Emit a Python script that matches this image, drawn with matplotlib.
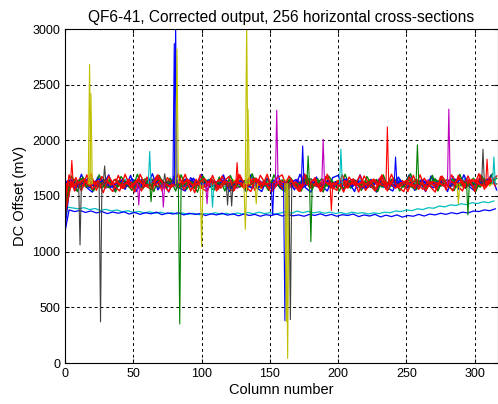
import numpy as np
import matplotlib
matplotlib.use("Agg")
import matplotlib.pyplot as plt

plt.rcParams['font.family'] = ['Liberation Sans', 'DejaVu Sans']

# sampling step (columns) of the hand-read traces
step = 4

# main band traces (mV), one value every `step` columns
band_b1 = [1390, 1622, 1596, 1641, 1608, 1575, 1632, 1655, 1601, 1584,
           1619, 1646, 1590, 1614, 1571, 1636, 1604, 1652, 1579, 1626,
           1599, 1641, 1576, 1611, 1660, 1594, 1621, 1583, 1631, 1606,
           1645, 1569, 1616, 1589, 1650, 1611, 1579, 1626, 1599, 1641,
           1566, 1621, 1594, 1634, 1574, 1609, 1646, 1589, 1619, 1579,
           1629, 1601, 1654, 1584, 1614, 1569, 1624, 1604, 1639, 1579,
           1611, 1594, 1629, 1566, 1621, 1589, 1644, 1599, 1574, 1636,
           1609, 1586, 1651, 1599, 1626, 1589, 1641, 1609, 1656, 1619]
band_g1 = [1350, 1605, 1648, 1580, 1622, 1660, 1598, 1570, 1635, 1612,
           1585, 1640, 1618, 1572, 1628, 1655, 1590, 1615, 1645, 1578,
           1620, 1592, 1650, 1605, 1568, 1632, 1610, 1658, 1588, 1625,
           1602, 1575, 1640, 1615, 1590, 1662, 1597, 1628, 1570, 1612,
           1645, 1585, 1620, 1600, 1655, 1578, 1630, 1608, 1590, 1642,
           1572, 1618, 1596, 1648, 1610, 1580, 1635, 1560, 1615, 1598,
           1650, 1585, 1625, 1605, 1570, 1638, 1592, 1618, 1655, 1588,
           1612, 1640, 1578, 1625, 1600, 1660, 1595, 1630, 1610, 1665]
band_r1 = [1420, 1640, 1585, 1615, 1652, 1590, 1628, 1575, 1645, 1600,
           1622, 1568, 1638, 1605, 1660, 1582, 1618, 1595, 1642, 1610,
           1578, 1632, 1600, 1648, 1585, 1620, 1655, 1592, 1615, 1570,
           1630, 1605, 1645, 1580, 1612, 1658, 1598, 1625, 1572, 1640,
           1608, 1590, 1638, 1565, 1618, 1602, 1650, 1585, 1628, 1595,
           1612, 1645, 1575, 1620, 1598, 1635, 1580, 1652, 1605, 1590,
           1625, 1570, 1615, 1640, 1588, 1608, 1560, 1632, 1598, 1620,
           1585, 1640, 1602, 1628, 1575, 1650, 1612, 1595, 1638, 1625]
band_c1 = [1400, 1598, 1630, 1612, 1575, 1648, 1605, 1622, 1588, 1640,
           1570, 1615, 1652, 1595, 1630, 1608, 1578, 1645, 1615, 1590,
           1660, 1602, 1585, 1625, 1640, 1578, 1612, 1650, 1595, 1630,
           1585, 1620, 1605, 1655, 1590, 1628, 1612, 1575, 1648, 1600,
           1622, 1560, 1615, 1598, 1640, 1610, 1585, 1632, 1568, 1615,
           1595, 1640, 1620, 1572, 1610, 1650, 1590, 1625, 1600, 1575,
           1618, 1598, 1652, 1580, 1612, 1635, 1590, 1608, 1630, 1570,
           1640, 1605, 1625, 1590, 1660, 1615, 1580, 1645, 1620, 1650]
band_m1 = [1360, 1635, 1608, 1580, 1650, 1615, 1592, 1638, 1570, 1625,
           1605, 1588, 1642, 1618, 1575, 1630, 1600, 1660, 1585, 1612,
           1640, 1570, 1625, 1598, 1645, 1615, 1582, 1635, 1605, 1655,
           1595, 1638, 1570, 1610, 1628, 1590, 1645, 1602, 1618, 1580,
           1635, 1608, 1572, 1650, 1592, 1620, 1598, 1575, 1640, 1605,
           1625, 1585, 1612, 1648, 1570, 1630, 1610, 1592, 1655, 1588,
           1598, 1640, 1615, 1582, 1625, 1565, 1610, 1645, 1590, 1628,
           1605, 1575, 1632, 1612, 1650, 1590, 1622, 1605, 1642, 1635]
band_y1 = [1440, 1610, 1645, 1592, 1618, 1575, 1640, 1600, 1655, 1585,
           1630, 1610, 1578, 1645, 1595, 1622, 1660, 1602, 1575, 1638,
           1612, 1585, 1640, 1608, 1625, 1570, 1650, 1598, 1618, 1635,
           1575, 1648, 1600, 1622, 1590, 1635, 1568, 1615, 1642, 1595,
           1620, 1650, 1580, 1612, 1585, 1645, 1602, 1628, 1595, 1572,
           1640, 1605, 1580, 1632, 1615, 1595, 1648, 1572, 1620, 1610,
           1585, 1625, 1600, 1655, 1578, 1615, 1632, 1592, 1608, 1650,
           1620, 1595, 1640, 1580, 1615, 1635, 1605, 1655, 1590, 1645]
band_k1 = [1300, 1615, 1588, 1625, 1640, 1602, 1578, 1650, 1612, 1595,
           1645, 1580, 1620, 1598, 1635, 1605, 1650, 1575, 1618, 1628,
           1595, 1650, 1612, 1580, 1632, 1605, 1590, 1645, 1570, 1620,
           1610, 1595, 1625, 1640, 1575, 1618, 1600, 1652, 1585, 1625,
           1598, 1640, 1612, 1580, 1625, 1655, 1590, 1615, 1632, 1570,
           1608, 1628, 1590, 1645, 1600, 1618, 1575, 1640, 1585, 1622,
           1645, 1598, 1608, 1572, 1635, 1612, 1595, 1628, 1580, 1615,
           1650, 1590, 1612, 1632, 1598, 1618, 1640, 1585, 1630, 1608]
band_b2 = [1250, 1630, 1645, 1598, 1612, 1660, 1585, 1622, 1640, 1575,
           1608, 1632, 1590, 1655, 1612, 1580, 1628, 1600, 1645, 1585,
           1615, 1630, 1595, 1660, 1578, 1622, 1605, 1640, 1590, 1612,
           1650, 1580, 1618, 1635, 1598, 1570, 1628, 1610, 1595, 1645,
           1588, 1625, 1608, 1648, 1575, 1612, 1630, 1590, 1605, 1640,
           1580, 1622, 1650, 1595, 1612, 1635, 1570, 1608, 1628, 1592,
           1615, 1575, 1640, 1605, 1622, 1585, 1650, 1598, 1612, 1630,
           1590, 1625, 1608, 1645, 1575, 1632, 1600, 1618, 1650, 1628]
band_g2 = [1420, 1595, 1620, 1655, 1582, 1610, 1632, 1600, 1575, 1645,
           1622, 1598, 1610, 1640, 1572, 1625, 1605, 1650, 1590, 1618,
           1635, 1580, 1608, 1628, 1595, 1655, 1615, 1585, 1620, 1600,
           1640, 1612, 1578, 1630, 1605, 1650, 1585, 1608, 1625, 1595,
           1572, 1645, 1600, 1618, 1635, 1580, 1610, 1655, 1592, 1620,
           1602, 1570, 1638, 1612, 1590, 1628, 1605, 1648, 1585, 1615,
           1632, 1608, 1580, 1645, 1598, 1620, 1568, 1610, 1642, 1600,
           1625, 1650, 1595, 1612, 1635, 1605, 1580, 1640, 1618, 1660]
band_r2 = [1330, 1612, 1580, 1628, 1600, 1645, 1615, 1588, 1635, 1605,
           1652, 1595, 1618, 1575, 1640, 1610, 1590, 1630, 1658, 1600,
           1585, 1625, 1610, 1640, 1598, 1615, 1572, 1632, 1605, 1648,
           1620, 1590, 1635, 1608, 1580, 1625, 1645, 1600, 1612, 1588,
           1640, 1615, 1598, 1625, 1572, 1635, 1610, 1590, 1648, 1605,
           1618, 1588, 1640, 1602, 1625, 1580, 1612, 1645, 1595, 1630,
           1605, 1640, 1582, 1618, 1598, 1650, 1610, 1585, 1628, 1612,
           1595, 1630, 1615, 1660, 1600, 1628, 1645, 1592, 1620, 1640]
# noisier cross-sections that set the band's outer edges
band_r3 = [1380, 1690, 1545, 1660, 1580, 1700, 1550, 1675, 1600, 1540,
           1685, 1570, 1650, 1535, 1695, 1590, 1560, 1680, 1545, 1665,
           1600, 1700, 1555, 1640, 1530, 1690, 1575, 1660, 1545, 1680,
           1590, 1540, 1695, 1565, 1670, 1550, 1685, 1605, 1535, 1660,
           1690, 1560, 1640, 1545, 1700, 1580, 1665, 1540, 1675, 1590,
           1550, 1690, 1570, 1655, 1535, 1680, 1600, 1545, 1670, 1560,
           1695, 1575, 1640, 1540, 1685, 1560, 1660, 1590, 1535, 1675,
           1555, 1690, 1600, 1545, 1680, 1570, 1700, 1560, 1665, 1590]
band_g3 = [1300, 1560, 1680, 1540, 1670, 1595, 1545, 1690, 1570, 1655,
           1535, 1675, 1610, 1550, 1695, 1565, 1640, 1540, 1685, 1580,
           1660, 1545, 1690, 1560, 1625, 1535, 1680, 1600, 1550, 1670,
           1545, 1685, 1575, 1650, 1540, 1700, 1565, 1630, 1550, 1690,
           1575, 1540, 1665, 1600, 1545, 1685, 1560, 1655, 1535, 1680,
           1610, 1545, 1695, 1570, 1640, 1550, 1675, 1585, 1540, 1690,
           1560, 1665, 1545, 1620, 1700, 1555, 1640, 1570, 1685, 1545,
           1660, 1580, 1550, 1695, 1570, 1640, 1545, 1680, 1600, 1700]
band_b3 = [1220, 1640, 1550, 1695, 1575, 1535, 1670, 1600, 1690, 1545,
           1620, 1560, 1685, 1540, 1650, 1595, 1700, 1555, 1625, 1535,
           1680, 1570, 1545, 1665, 1590, 1695, 1550, 1635, 1560, 1690,
           1540, 1610, 1675, 1545, 1690, 1580, 1540, 1660, 1570, 1685,
           1545, 1640, 1555, 1695, 1575, 1535, 1670, 1590, 1545, 1665,
           1685, 1560, 1620, 1540, 1690, 1565, 1650, 1535, 1680, 1575,
           1545, 1670, 1595, 1690, 1550, 1625, 1540, 1680, 1565, 1650,
           1540, 1675, 1560, 1690, 1585, 1545, 1665, 1600, 1690, 1555]
band_r4 = [1350, 1575, 1665, 1545, 1690, 1560, 1640, 1530, 1680, 1590,
           1545, 1695, 1575, 1635, 1545, 1670, 1555, 1690, 1600, 1540,
           1665, 1580, 1695, 1545, 1650, 1570, 1540, 1685, 1560, 1630,
           1675, 1550, 1690, 1585, 1540, 1660, 1570, 1695, 1545, 1620,
           1555, 1680, 1590, 1540, 1690, 1570, 1625, 1545, 1695, 1560,
           1640, 1535, 1670, 1595, 1685, 1550, 1620, 1560, 1690, 1545,
           1650, 1580, 1540, 1670, 1565, 1690, 1545, 1625, 1560, 1680,
           1600, 1545, 1685, 1570, 1650, 1540, 1690, 1575, 1640, 1680]

# two low cross-sections
low_blue = [1180, 1375, 1360, 1370, 1352, 1366, 1348, 1360, 1342, 1356,
            1345, 1358, 1338, 1352, 1335, 1350, 1340, 1355, 1332, 1348,
            1338, 1350, 1330, 1345, 1335, 1342, 1325, 1340, 1330, 1345,
            1328, 1340, 1322, 1338, 1325, 1335, 1318, 1332, 1325, 1338,
            1320, 1335, 1322, 1330, 1318, 1335, 1325, 1340, 1322, 1335,
            1318, 1332, 1325, 1338, 1315, 1330, 1320, 1335, 1312, 1328,
            1315, 1330, 1310, 1325, 1318, 1335, 1320, 1338, 1330, 1345,
            1335, 1350, 1340, 1355, 1348, 1365, 1360, 1375, 1368, 1385]
low_cyan = [1300, 1400, 1392, 1385, 1395, 1378, 1388, 1370, 1380, 1365,
            1375, 1358, 1368, 1352, 1362, 1348, 1358, 1345, 1355, 1340,
            1350, 1338, 1348, 1335, 1345, 1332, 1342, 1338, 1350, 1335,
            1345, 1332, 1348, 1338, 1352, 1340, 1355, 1342, 1350, 1338,
            1348, 1360, 1345, 1365, 1350, 1362, 1348, 1358, 1345, 1355,
            1342, 1352, 1338, 1355, 1345, 1350, 1338, 1348, 1342, 1355,
            1350, 1365, 1360, 1375, 1368, 1385, 1378, 1395, 1390, 1410,
            1402, 1420, 1415, 1430, 1422, 1440, 1432, 1448, 1440, 1455]

# isolated spikes: column, peak value, colour code
spike_cols = [5, 11, 18, 19, 26, 29, 54, 62, 63, 72, 73, 80, 81, 82, 84,
              100, 104, 108, 119, 122, 126, 132, 133, 134, 140, 152, 155,
              161, 162, 163, 165, 174, 178, 180, 189, 195, 202, 236, 242,
              258, 281, 288, 295, 306, 309, 314]
spike_vals = [1820, 1060, 2680, 2420, 370, 1770, 1420, 1900, 1450, 1400,
              1700, 2870, 3050, 2820, 350, 1050, 1430, 1400, 1420, 1410,
              1800, 1200, 3050, 2280, 1430, 1330, 2270, 380, 370, 40, 390,
              1950, 1860, 1090, 2010, 1370, 1920, 2120, 1850, 1960, 2280,
              1430, 1330, 1920, 1830, 1850]
spike_clr = ['r', 'k', 'y', 'y', 'k', 'k', 'm', 'c', 'g', 'm', 'k', 'b',
             'b', 'y', 'g', 'y', 'm', 'c', 'k', 'k', 'r', 'y', 'y', 'y',
             'y', 'b', 'm', 'b', 'y', 'y', 'k', 'b', 'g', 'g', 'm', 'r',
             'c', 'r', 'b', 'g', 'm', 'y', 'g', 'k', 'r', 'c']
spike_base = 1610

# MATLAB colour codes
mcol = {'b': (0, 0, 1), 'g': (0, 0.5, 0), 'r': (1, 0, 0),
        'c': (0, 0.75, 0.75), 'm': (0.75, 0, 0.75),
        'y': (0.75, 0.75, 0), 'k': (0.25, 0.25, 0.25)}


def columns(n, phase):
    # first sample sits at column 0, the rest are shifted by `phase`
    c = np.arange(n) * step + phase
    c[0] = 0
    return c


fig = plt.figure(figsize=(4.98, 4.04), dpi=100)
ax = fig.add_axes([65 / 498, 41 / 404, 1 - 65 / 498, 334 / 404])

ax.plot(columns(len(low_cyan), -2), low_cyan, color=mcol['c'], lw=0.9)
ax.plot(columns(len(low_blue), -1), low_blue, color=mcol['b'], lw=0.9)

band = [(band_c1, 'c', -3), (band_y1, 'y', -1), (band_m1, 'm', -2),
        (band_b3, 'b', 0), (band_g3, 'g', -3), (band_b1, 'b', -2),
        (band_g1, 'g', -1), (band_k1, 'k', 0), (band_r3, 'r', -1),
        (band_b2, 'b', -3), (band_g2, 'g', 0), (band_r1, 'r', -2),
        (band_r4, 'r', 0), (band_r2, 'r', -3)]
for vals, c, ph in band:
    ax.plot(columns(len(vals), ph), vals, color=mcol[c], lw=1.0)

for col, v, c in zip(spike_cols, spike_vals, spike_clr):
    ax.plot([col - 1, col, col + 1], [spike_base, v, spike_base],
            color=mcol[c], lw=0.8)

ax.set_xlim(0, 317)
ax.set_ylim(0, 3000)
ax.set_xticks(range(0, 301, 50))
ax.set_yticks(range(0, 3001, 500))
ax.grid(True, color='black', linestyle=(0, (3, 3)), linewidth=0.7)
ax.tick_params(direction='in', top=True, right=True, labelsize=9, length=3)
for s in ax.spines.values():
    s.set_color('black')
    s.set_linewidth(0.8)

ax.set_title("QF6-41, Corrected output, 256 horizontal cross-sections",
             fontsize=11.2, pad=5)
ax.set_xlabel("Column number", fontsize=10.5, labelpad=2)
ax.set_ylabel("DC Offset (mV)", fontsize=10.5, labelpad=4)

fig.savefig("out.png", dpi=100)
